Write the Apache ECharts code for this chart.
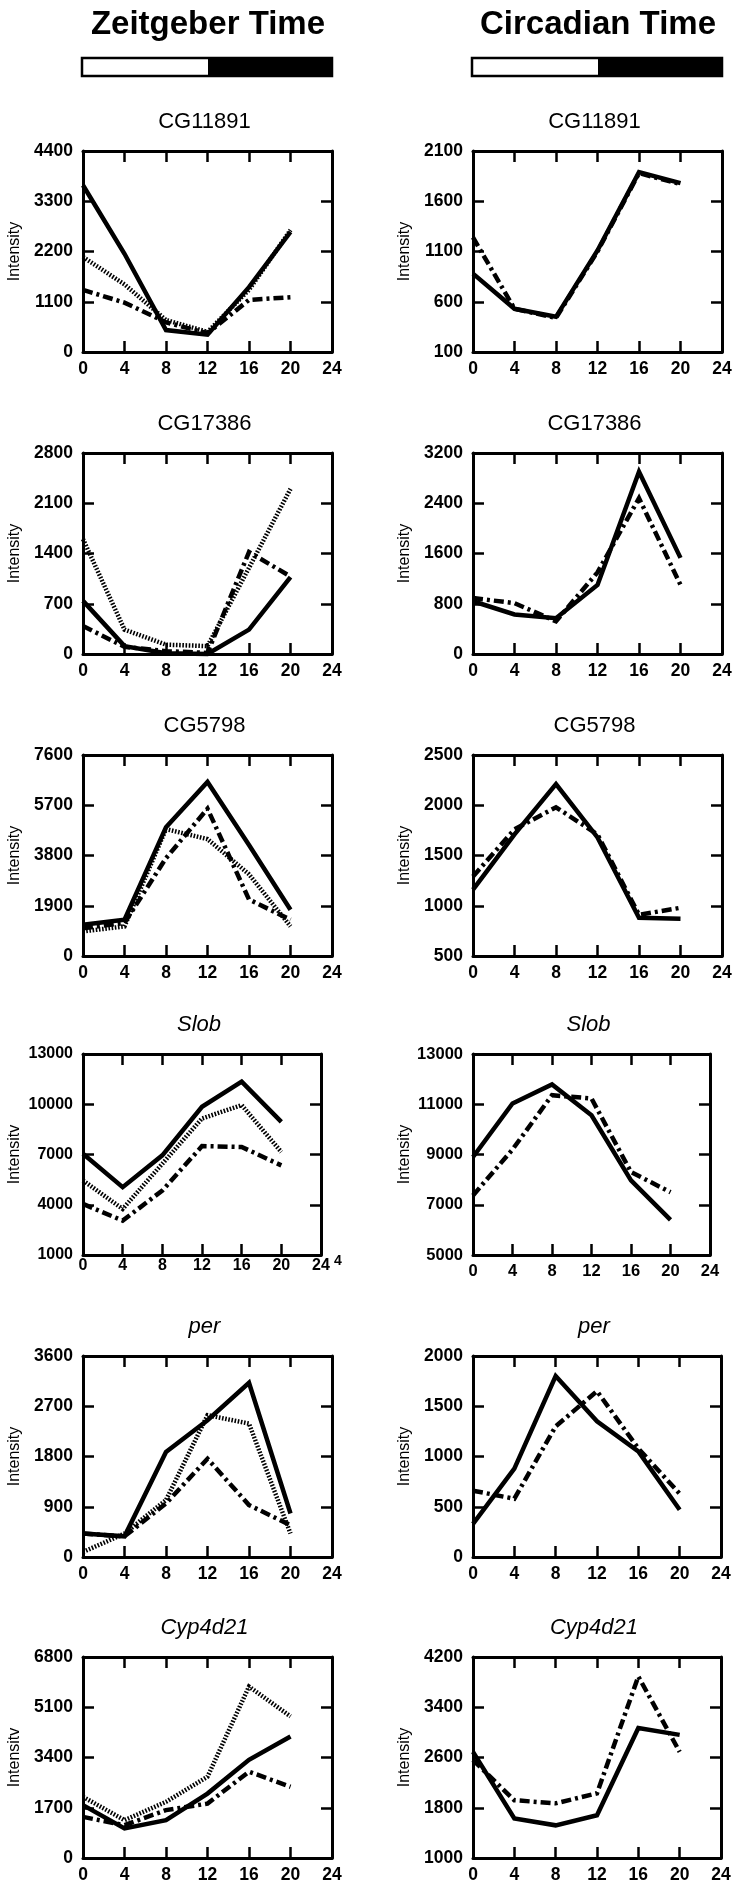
<!DOCTYPE html>
<html>
<head>
<meta charset="utf-8">
<script src="https://cdn.jsdelivr.net/npm/echarts@6/dist/echarts.min.js"></script>
<style>
  html, body { margin: 0; padding: 0; background: #fff; }
  #chart { width: 736px; height: 1891px; }
</style>
</head>
<body>
<div id="chart"></div>
<script>
// sampling hours, same for every panel
const HOURS = [0, 4, 8, 12, 16, 20];

// Zeitgeber time: [solid, dotted, dash-dot]
const CG11891_ZT = [
  [3650, 2150, 480, 380, 1420, 2630],
  [2080, 1480, 700, 440, 1360, 2670],
  [1360, 1080, 650, 410, 1140, 1200]
];
const CG17386_ZT = [
  [740, 110, 10, 0, 340, 1070],
  [1600, 340, 130, 110, 1200, 2300],
  [390, 100, 40, 15, 1420, 1080]
];
const CG5798_ZT = [
  [1180, 1370, 4870, 6580, 4200, 1750],
  [930, 1120, 4800, 4420, 3090, 1120],
  [1050, 1250, 3700, 5570, 2140, 1370]
];
const SLOB_ZT = [
  [7050, 5050, 6950, 9850, 11350, 8950],
  [5450, 3750, 6450, 9150, 9950, 7150],
  [4050, 3050, 4850, 7500, 7450, 6350]
];
const PER_ZT = [
  [420, 370, 1880, 2450, 3120, 780],
  [90, 420, 1020, 2540, 2390, 420],
  [420, 370, 960, 1760, 930, 570]
];
const CYP4D21_ZT = [
  [1790, 1000, 1280, 2180, 3320, 4110],
  [2070, 1280, 1900, 2750, 5800, 4790],
  [1390, 1110, 1620, 1840, 2920, 2410]
];

// Circadian time: [solid, dash-dot]
const CG11891_CT = [
  [880, 530, 450, 1110, 1890, 1780],
  [1240, 530, 440, 1100, 1880, 1770]
];
const CG17386_CT = [
  [840, 630, 570, 1100, 2900, 1530],
  [890, 810, 520, 1300, 2480, 1100]
];
const CG5798_CT = [
  [1160, 1710, 2210, 1680, 880, 870],
  [1290, 1760, 1980, 1710, 910, 980]
];
const SLOB_CT = [
  [8900, 11030, 11790, 10560, 7970, 6400],
  [7370, 9200, 11360, 11230, 8300, 7500]
];
const PER_CT = [
  [330, 880, 1800, 1350, 1050, 470],
  [660, 580, 1300, 1650, 1080, 630]
];
const CYP4D21_CT = [
  [2690, 1630, 1520, 1680, 3070, 2960],
  [2560, 1920, 1870, 2030, 3890, 2690]
];

// y tick labels
const CG11891_ZT_TICKS = [0, 1100, 2200, 3300, 4400];
const CG17386_ZT_TICKS = [0, 700, 1400, 2100, 2800];
const CG5798_ZT_TICKS = [0, 1900, 3800, 5700, 7600];
const SLOB_ZT_TICKS = [1000, 4000, 7000, 10000, 13000];
const PER_ZT_TICKS = [0, 900, 1800, 2700, 3600];
const CYP4D21_ZT_TICKS = [0, 1700, 3400, 5100, 6800];
const CG11891_CT_TICKS = [100, 600, 1100, 1600, 2100];
const CG17386_CT_TICKS = [0, 800, 1600, 2400, 3200];
const CG5798_CT_TICKS = [500, 1000, 1500, 2000, 2500];
const SLOB_CT_TICKS = [5000, 7000, 9000, 11000, 13000];
const PER_CT_TICKS = [0, 500, 1000, 1500, 2000];
const CYP4D21_CT_TICKS = [1000, 1800, 2600, 3400, 4200];

const HEADERS = ['Zeitgeber Time', 'Circadian Time'];

const FONT = '"Liberation Sans", Arial, Helvetica, sans-serif';
const ZT_STYLES = ['solid', 'dotted', 'dashdot'];
const CT_STYLES = ['solid', 'dashdot'];
const LINE_TYPES = {
  solid: 'solid',
  dotted: [1.6, 1.6],
  dashdot: [10, 4, 3, 4]
};

// layout
const COL_LEFT = [83, 473];
const ROW_TOP = [151, 453, 755, 1054, 1356, 1657];
const PLOT_H = 201;

const PANELS = [
  { gene: 'CG11891', italic: false, col: 0, row: 0, data: CG11891_ZT, ticks: CG11891_ZT_TICKS, yName: 'Intensity' },
  { gene: 'CG17386', italic: false, col: 0, row: 1, data: CG17386_ZT, ticks: CG17386_ZT_TICKS, yName: 'Intensity' },
  { gene: 'CG5798', italic: false, col: 0, row: 2, data: CG5798_ZT, ticks: CG5798_ZT_TICKS, yName: 'Intensity' },
  { gene: 'Slob', italic: true, col: 0, row: 3, data: SLOB_ZT, ticks: SLOB_ZT_TICKS, yName: 'Intensitv', width: 238, fontSize: 16, xMargin: 3 },
  { gene: 'per', italic: true, col: 0, row: 4, data: PER_ZT, ticks: PER_ZT_TICKS, yName: 'Intensity' },
  { gene: 'Cyp4d21', italic: true, col: 0, row: 5, data: CYP4D21_ZT, ticks: CYP4D21_ZT_TICKS, yName: 'Intensitv' },
  { gene: 'CG11891', italic: false, col: 1, row: 0, data: CG11891_CT, ticks: CG11891_CT_TICKS, yName: 'Intensity' },
  { gene: 'CG17386', italic: false, col: 1, row: 1, data: CG17386_CT, ticks: CG17386_CT_TICKS, yName: 'Intensity' },
  { gene: 'CG5798', italic: false, col: 1, row: 2, data: CG5798_CT, ticks: CG5798_CT_TICKS, yName: 'Intensity' },
  { gene: 'Slob', italic: true, col: 1, row: 3, data: SLOB_CT, ticks: SLOB_CT_TICKS, yName: 'Intensity', width: 237, fontSize: 16.5 },
  { gene: 'per', italic: true, col: 1, row: 4, data: PER_CT, ticks: PER_CT_TICKS, yName: 'Intensity', width: 248 },
  { gene: 'Cyp4d21', italic: true, col: 1, row: 5, data: CYP4D21_CT, ticks: CYP4D21_CT_TICKS, yName: 'Intensity', width: 248 }
];

const chart = echarts.init(document.getElementById('chart'), null, { renderer: 'canvas' });

const grids = [], xAxes = [], yAxes = [], series = [], graphics = [];
const axisLine = { show: true, onZero: false, lineStyle: { color: '#000', width: 3 } };
const plain = v => String(v);

PANELS.forEach((p, i) => {
  const left = COL_LEFT[p.col];
  const top = ROW_TOP[p.row];
  const width = p.width || 249;
  const fs = p.fontSize || 17.5;
  const yMin = p.ticks[0], yMax = p.ticks[p.ticks.length - 1];
  const inner = p.ticks.slice(1, -1);
  const labelStyle = { color: '#000', fontSize: fs, fontFamily: FONT, fontWeight: 'bold', formatter: plain };

  grids.push({ left: left, top: top, width: width, height: PLOT_H, containLabel: false, outerBoundsMode: 'none' });

  const xBase = {
    gridIndex: i, type: 'value', min: 0, max: 24, interval: 4,
    axisLine: axisLine, splitLine: { show: false },
    axisTick: { inside: true, length: 11, lineStyle: { color: '#000', width: 2.5 } }
  };
  xAxes.push(Object.assign({}, xBase, {
    position: 'bottom',
    axisLabel: Object.assign({}, labelStyle, { margin: p.xMargin != null ? p.xMargin : 8 })
  }));
  xAxes.push(Object.assign({}, xBase, { position: 'top', axisLabel: { show: false } }));

  const yBase = {
    gridIndex: i, type: 'value', min: yMin, max: yMax,
    axisLine: axisLine, splitLine: { show: false },
    axisTick: { inside: true, length: 11, customValues: inner, lineStyle: { color: '#000', width: 2.5 } }
  };
  yAxes.push(Object.assign({}, yBase, {
    position: 'left',
    axisLabel: Object.assign({}, labelStyle, { margin: 10, customValues: p.ticks }),
    name: p.yName, nameLocation: 'middle', nameGap: 60,
    nameTextStyle: { color: '#000', fontSize: 16, fontFamily: FONT }
  }));
  yAxes.push(Object.assign({}, yBase, { position: 'right', axisLabel: { show: false } }));

  const styles = p.col === 0 ? ZT_STYLES : CT_STYLES;
  p.data.forEach((vals, k) => {
    series.push({
      type: 'line',
      xAxisIndex: 2 * i,
      yAxisIndex: 2 * i,
      data: HOURS.map((h, j) => [h, vals[j]]),
      symbol: 'none',
      clip: false,
      silent: true,
      lineStyle: { color: '#000', width: 4.5, type: LINE_TYPES[styles[k]], cap: 'butt', join: 'miter' }
    });
  });

  graphics.push({
    type: 'text', x: left + width / 2 - 3, y: top - 29,
    style: {
      text: p.gene, fill: '#000',
      font: (p.italic ? 'italic ' : '') + '22px ' + FONT,
      align: 'center', verticalAlign: 'middle', textAlign: 'center', textVerticalAlign: 'middle'
    }
  });
});

// headers with light/dark bars
HEADERS.forEach((h, c) => {
  const left = COL_LEFT[c] - 1;
  graphics.push({
    type: 'text', x: left + 126, y: 25,
    style: {
      text: h, fill: '#000', font: 'bold 33px ' + FONT,
      align: 'center', verticalAlign: 'middle', textAlign: 'center', textVerticalAlign: 'middle'
    }
  });
  graphics.push({ type: 'rect', shape: { x: left, y: 58, width: 250, height: 18 }, style: { fill: '#fff', stroke: '#000', lineWidth: 2.5 } });
  graphics.push({ type: 'rect', shape: { x: left + 126, y: 58, width: 124, height: 18 }, style: { fill: '#000' } });
});

// stray superscript after the Slob ZT "24" label
graphics.push({
  type: 'text', x: 334, y: 1261,
  style: { text: '4', fill: '#000', font: 'bold 14px ' + FONT, align: 'left', verticalAlign: 'middle', textAlign: 'left', textVerticalAlign: 'middle' }
});

chart.setOption({
  animation: false,
  backgroundColor: '#fff',
  grid: grids,
  xAxis: xAxes,
  yAxis: yAxes,
  series: series,
  graphic: graphics
});
</script>
</body>
</html>
